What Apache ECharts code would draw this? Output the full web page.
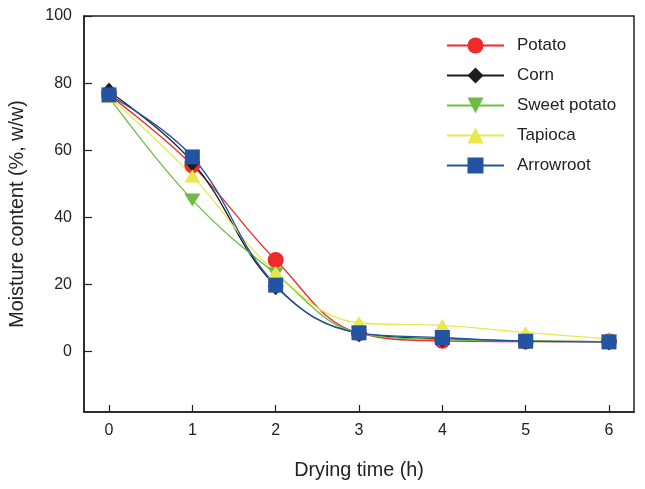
<!DOCTYPE html>
<html><head><meta charset="utf-8">
<script src="https://cdn.jsdelivr.net/npm/echarts@6/dist/echarts.min.js"></script>
<style>html,body{margin:0;padding:0;background:#fff}#c{width:645px;height:489px}</style>
</head><body><div id="c"></div>
<script>
const times = [0, 1, 2, 3, 4, 5, 6];
const potato = [76.5, 55.5, 27.3, 5.5, 3.2, 3.0, 3.0];
const corn = [77.5, 56.5, 19.5, 5.5, 3.8, 3.2, 3.0];
const sweetPotato = [75.8, 45.2, 23.2, 5.5, 3.6, 3.2, 3.0];
const tapioca = [76.0, 52.3, 23.6, 8.6, 7.8, 5.7, 3.8];
const arrowroot = [76.5, 58.0, 19.8, 5.6, 4.2, 3.1, 2.9];
const xTicks = [0, 1, 2, 3, 4, 5, 6];
const yTicks = [0, 20, 40, 60, 80, 100];

const font = '"Liberation Sans", Arial, sans-serif';
function mk(name, vals, color, symbol, size, rotate) {
  return {
    name, type: 'line', smooth: 0.4,
    data: times.map((t, i) => [t, vals[i]]),
    symbol, symbolSize: size, symbolRotate: rotate || 0,
    lineStyle: { color, width: 1.3 },
    itemStyle: { color, borderWidth: 0 },
    showAllSymbol: true
  };
}
const chart = echarts.init(document.getElementById('c'), null, { renderer: 'canvas' });
chart.setOption({
  animation: false,
  textStyle: { fontFamily: font },
  grid: { left: 84, right: 11, top: 16, bottom: 77, show: true, borderColor: '#222', borderWidth: 1.5, backgroundColor: 'transparent' },
  legend: {
    orient: 'vertical', left: 441, top: 32, itemWidth: 57, itemHeight: 20, itemGap: 13,
    textStyle: { fontSize: 17, color: '#222', fontFamily: font, padding: [0, 0, 0, 8] },
    data: ['Potato', 'Corn', 'Sweet potato', 'Tapioca', 'Arrowroot']
  },
  xAxis: {
    type: 'value', min: -0.3, max: 6.3,
    name: 'Drying time (h)', nameLocation: 'middle', nameGap: 49,
    nameTextStyle: { fontSize: 19.8, color: '#222', fontFamily: font },
    axisLine: { show: true, onZero: false, lineStyle: { color: '#222', width: 1.5 } },
    axisTick: { show: true, inside: true, length: 7, lineStyle: { color: '#222', width: 1.2 }, customValues: xTicks },
    axisLabel: { fontSize: 16, color: '#222', margin: 11, customValues: xTicks, fontFamily: font },
    splitLine: { show: false }
  },
  yAxis: {
    type: 'value', min: -18, max: 100,
    name: 'Moisture content (%, w/w)', nameLocation: 'middle', nameGap: 56,
    nameTextStyle: { fontSize: 19.8, color: '#222', fontFamily: font },
    axisLine: { show: true, onZero: false, lineStyle: { color: '#222', width: 1.5 } },
    axisTick: { show: true, inside: true, length: 8, lineStyle: { color: '#222', width: 1.2 }, customValues: yTicks },
    axisLabel: { fontSize: 16, color: '#222', margin: 12, customValues: yTicks, fontFamily: font },
    splitLine: { show: false }
  },
  series: [
    mk('Potato', potato, '#ee2a2a', 'circle', 16),
    mk('Corn', corn, '#1c1c1c', 'diamond', [16, 18]),
    mk('Sweet potato', sweetPotato, '#6dbd45', 'triangle', [16, 13], 180),
    mk('Tapioca', tapioca, '#e8e84c', 'triangle', [16, 13]),
    mk('Arrowroot', arrowroot, '#2354a3', 'rect', 15)
  ]
});
</script></body></html>
